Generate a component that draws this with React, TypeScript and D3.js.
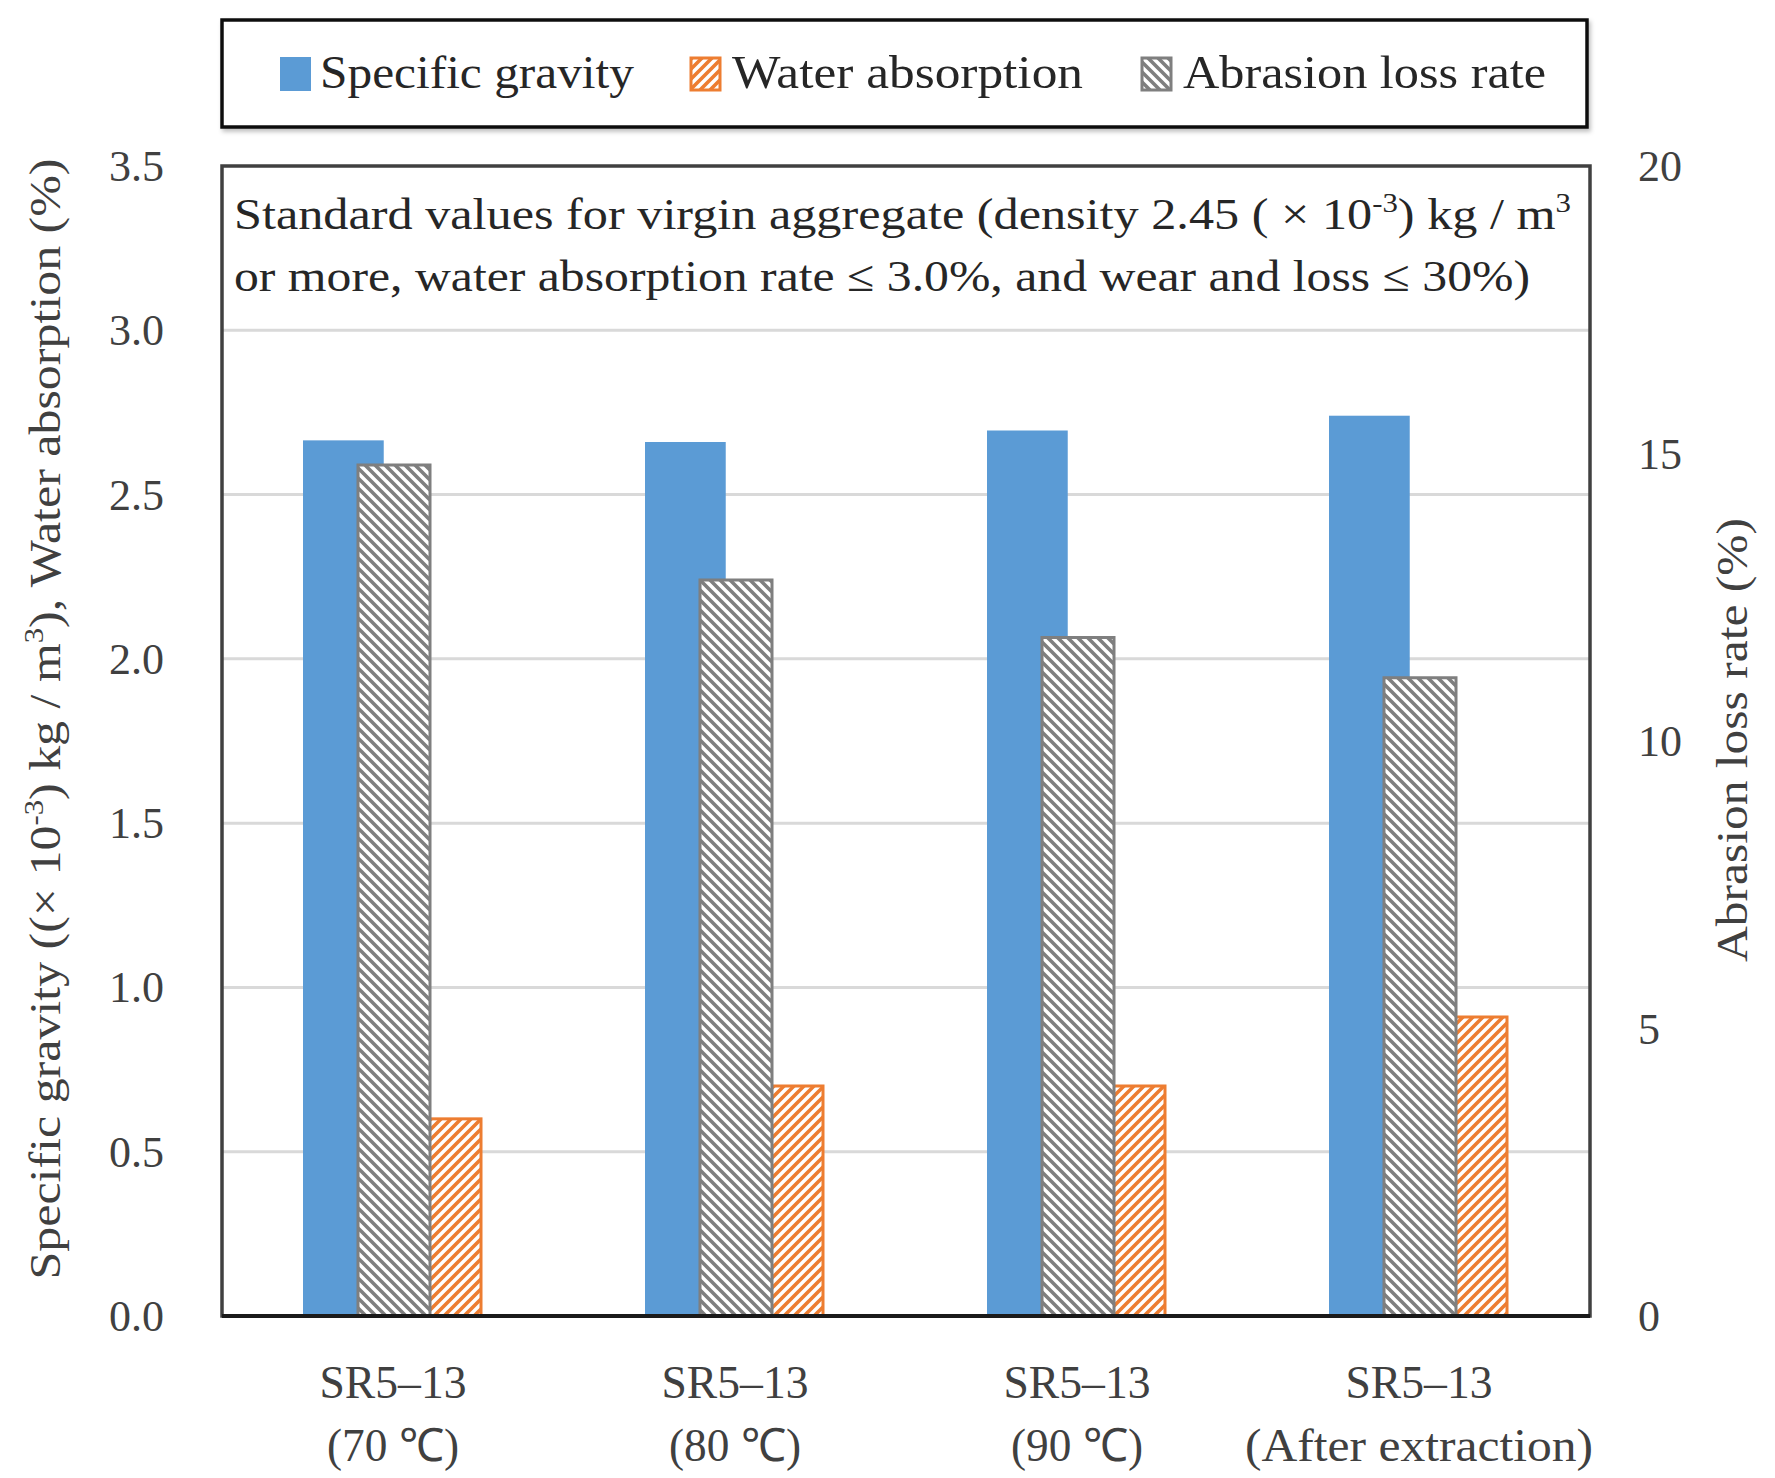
import * as d3 from "d3";

const categories = ["70", "80", "90", "after"];
const catLine1 = ["SR5–13", "SR5–13", "SR5–13", "SR5–13"];
const catLine2 = ["(70 ℃)", "(80 ℃)", "(90 ℃)", "(After extraction)"];
const specificGravity = [2.665, 2.66, 2.695, 2.74];
const waterAbsorption = [0.6, 0.7, 0.7, 0.91];
const abrasionLoss = [14.8, 12.8, 11.8, 11.1];
const leftTicks = [0, 0.5, 1, 1.5, 2, 2.5, 3, 3.5];
const rightTicks = [0, 5, 10, 15, 20];

const BLUE = "#5B9BD5";
const ORANGE = "#ED7D31";
const GRAY = "#7F7F7F";
const FONT = "Liberation Serif";

export default function App() {
  const width = 1775;
  const height = 1478;
  const plot = { left: 222, right: 1590, top: 166, bottom: 1316 };

  const x = d3
    .scaleBand<string>()
    .domain(categories)
    .range([plot.left, plot.right])
    .padding(0);
  const inner = d3
    .scaleBand<string>()
    .domain(["sg", "wa"])
    .range([-90, 88])
    .paddingInner(0.17);
  const innerSec = d3.scaleBand<string>().domain(["abr"]).range([-35, 37]);

  const yL = d3.scaleLinear().domain([0, 3.5]).range([plot.bottom, plot.top]);
  const yR = d3.scaleLinear().domain([0, 20]).range([plot.bottom, plot.top]);

  const cx = (c: string) => (x(c) ?? 0) + x.bandwidth() / 2;
  const line2Len = (s: string) => (s.length > 10 ? 348 : 132);

  return (
    <svg
      width={width}
      height={height}
      style={{ position: "absolute", left: 0, top: 0, background: "#fff" }}
      fontFamily={FONT}
    >
      <defs>
        <pattern id="grayHatch" width="10" height="10" patternUnits="userSpaceOnUse">
          <rect width="10" height="10" fill="#fff" />
          <path d="M-2.5,-2.5 L12.5,12.5 M-2.5,7.5 L2.5,12.5 M7.5,-2.5 L12.5,2.5" stroke={GRAY} strokeWidth="3.6" />
        </pattern>
        <pattern id="orangeHatch" width="10" height="10" patternUnits="userSpaceOnUse">
          <rect width="10" height="10" fill="#fff" />
          <path d="M-2.5,12.5 L12.5,-2.5 M-2.5,2.5 L2.5,-2.5 M7.5,12.5 L12.5,7.5" stroke={ORANGE} strokeWidth="3.6" />
        </pattern>
        <filter id="shadow" x="-5%" y="-20%" width="110%" height="140%">
          <feDropShadow dx="2" dy="3" stdDeviation="2" floodColor="#000" floodOpacity="0.25" />
        </filter>
      </defs>

      {/* legend */}
      <rect x={222} y={20} width={1365} height={107} fill="#fff" stroke="#111" strokeWidth={3.5} filter="url(#shadow)" />
      <rect x={280} y={57} width={31} height={34} fill={BLUE} />
      <text x={320} y={88} fontSize={46} fill="#262626" textLength={314} lengthAdjust="spacingAndGlyphs">
        Specific gravity
      </text>
      <rect x={691} y={58} width={29} height={32} fill="url(#orangeHatch)" stroke={ORANGE} strokeWidth={3} />
      <text x={732} y={88} fontSize={46} fill="#262626" textLength={351} lengthAdjust="spacingAndGlyphs">
        Water absorption
      </text>
      <rect x={1142} y={58} width={29} height={32} fill="url(#grayHatch)" stroke={GRAY} strokeWidth={3} />
      <text x={1183} y={88} fontSize={46} fill="#262626" textLength={363} lengthAdjust="spacingAndGlyphs">
        Abrasion loss rate
      </text>

      {/* plot background + grid */}
      <rect x={plot.left} y={plot.top} width={plot.right - plot.left} height={plot.bottom - plot.top} fill="#fff" />
      {leftTicks
        .filter((t) => t > 0 && t < 3.5)
        .map((t) => (
          <line key={t} x1={plot.left} x2={plot.right} y1={yL(t)} y2={yL(t)} stroke="#D9D9D9" strokeWidth={3} />
        ))}

      {/* bars: primary axis */}
      {categories.map((c, i) => (
        <g key={"p" + c}>
          <rect
            x={cx(c) + (inner("sg") ?? 0)}
            y={yL(specificGravity[i])}
            width={inner.bandwidth()}
            height={yL(0) - yL(specificGravity[i])}
            fill={BLUE}
          />
          <rect
            x={cx(c) + (inner("wa") ?? 0)}
            y={yL(waterAbsorption[i])}
            width={inner.bandwidth()}
            height={yL(0) - yL(waterAbsorption[i])}
            fill="url(#orangeHatch)"
            stroke={ORANGE}
            strokeWidth={3}
          />
        </g>
      ))}
      {/* bars: secondary axis */}
      {categories.map((c, i) => (
        <rect
          key={"s" + c}
          x={cx(c) + (innerSec("abr") ?? 0)}
          y={yR(abrasionLoss[i])}
          width={innerSec.bandwidth()}
          height={yR(0) - yR(abrasionLoss[i])}
          fill="url(#grayHatch)"
          stroke={GRAY}
          strokeWidth={3}
        />
      ))}

      {/* frame */}
      <rect
        x={plot.left}
        y={plot.top}
        width={plot.right - plot.left}
        height={plot.bottom - plot.top}
        fill="none"
        stroke="#404040"
        strokeWidth={3.5}
      />
      <line x1={plot.left} x2={plot.right} y1={plot.bottom} y2={plot.bottom} stroke="#1a1a1a" strokeWidth={4} />

      {/* annotation */}
      <text x={234} y={229} fontSize={44} fill="#262626" textLength={1337} lengthAdjust="spacingAndGlyphs">
        Standard values for virgin aggregate (density 2.45 ( × 10
        <tspan fontSize={27} dy={-17}>-3</tspan>
        <tspan dy={17}>) kg / m</tspan>
        <tspan fontSize={27} dy={-17}>3</tspan>
      </text>
      <text x={234} y={291} fontSize={44} fill="#262626" textLength={1296} lengthAdjust="spacingAndGlyphs">
        or more, water absorption rate ≤ 3.0%, and wear and loss ≤ 30%)
      </text>

      {/* left ticks */}
      {leftTicks.map((t) => (
        <text key={t} x={164} y={yL(t) + 15} fontSize={44} fill="#404040" textAnchor="end">
          {d3.format(".1f")(t)}
        </text>
      ))}
      {/* right ticks */}
      {rightTicks.map((t) => (
        <text key={t} x={1638} y={yR(t) + 15} fontSize={44} fill="#404040" textAnchor="start">
          {t}
        </text>
      ))}

      {/* category labels */}
      {categories.map((c, i) => (
        <g key={"l" + c}>
          <text
            x={cx(c)}
            y={1398}
            fontSize={46}
            fill="#404040"
            textAnchor="middle"
            textLength={147}
            lengthAdjust="spacingAndGlyphs"
          >
            {catLine1[i]}
          </text>
          <text
            x={cx(c)}
            y={1461}
            fontSize={46}
            fill="#404040"
            textAnchor="middle"
            textLength={line2Len(catLine2[i])}
            lengthAdjust="spacingAndGlyphs"
          >
            {catLine2[i]}
          </text>
        </g>
      ))}

      {/* axis titles */}
      <text
        transform="translate(60,719) rotate(-90)"
        fontSize={44}
        fill="#404040"
        textAnchor="middle"
        textLength={1121}
        lengthAdjust="spacingAndGlyphs"
      >
        Specific gravity ((× 10
        <tspan fontSize={27} dy={-17}>-3</tspan>
        <tspan dy={17}>) kg / m</tspan>
        <tspan fontSize={27} dy={-17}>3</tspan>
        <tspan dy={17}>), Water absorption (%)</tspan>
      </text>
      <text
        transform="translate(1747,740) rotate(-90)"
        fontSize={44}
        fill="#404040"
        textAnchor="middle"
        textLength={444}
        lengthAdjust="spacingAndGlyphs"
      >
        Abrasion loss rate (%)
      </text>
    </svg>
  );
}
